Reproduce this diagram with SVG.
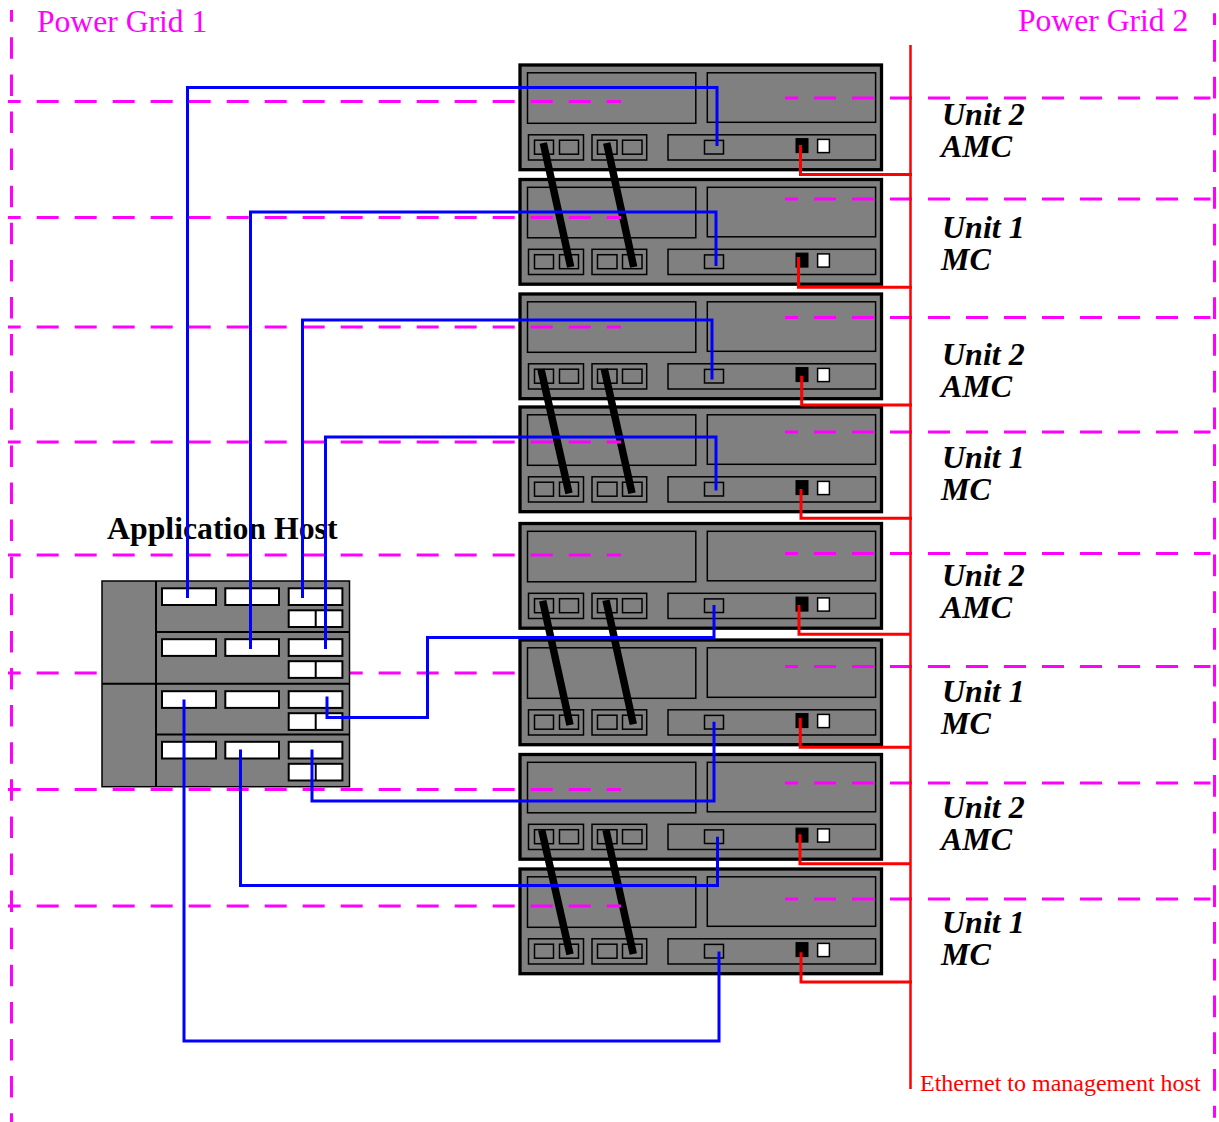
<svg xmlns="http://www.w3.org/2000/svg" width="1219" height="1122" viewBox="0 0 1219 1122">
<style>
.g{fill:#808080;stroke:#000;stroke-width:1.5}
.o{fill:#808080;stroke:#000;stroke-width:3.3}
.w{fill:#fff;stroke:#000;stroke-width:2}
.b{fill:#000;stroke:#000;stroke-width:1}
.m{fill:none;stroke:#f0f;stroke-width:3;stroke-dasharray:22 16}
.bl{fill:none;stroke:#00f;stroke-width:3}
.r{fill:none;stroke:#f00;stroke-width:3}
.k{stroke:#000;stroke-width:7.5}
text{font-family:"Liberation Serif","Times New Roman",serif}
.p{font-size:31.6px;fill:#f0f}
.u{font-size:32px;font-weight:bold;font-style:italic;fill:#000}
.a{font-size:31.8px;font-weight:bold;fill:#000}
.e{font-size:24px;fill:#f00}
</style>
<defs>
<g id="rack">
<rect class="o" x="520" y="65" width="361.5" height="104.7"/>
<rect class="g" x="527.5" y="72.8" width="168.3" height="50.5"/>
<rect class="g" x="707.3" y="72.8" width="168.3" height="49.5"/>
<rect class="g" x="528.5" y="134.8" width="55" height="25.2"/>
<rect class="g" x="534.5" y="140.2" width="19" height="14"/>
<rect class="g" x="559.5" y="140.2" width="19" height="14"/>
<rect class="g" x="592" y="134.8" width="54.7" height="25.2"/>
<rect class="g" x="597.5" y="140.2" width="19.5" height="14"/>
<rect class="g" x="622.5" y="140.2" width="19.5" height="14"/>
<rect class="g" x="668" y="134.8" width="207.6" height="25.2"/>
<rect class="g" x="704.5" y="140.4" width="19" height="13.6"/>
<rect class="b" x="796" y="138.6" width="12" height="14"/>
<rect class="w" x="817.6" y="139.4" width="11.8" height="13.2" style="stroke-width:1.5"/>
</g>
<g id="slots">
<rect class="w" x="162" y="0" width="54" height="16.7"/>
<rect class="w" x="225.3" y="0" width="53.7" height="16.7"/>
<rect class="w" x="288.7" y="0" width="53.7" height="16.7"/>
<rect class="w" x="288.7" y="22" width="53.7" height="16.7"/>
<path d="M315.7 22V38.7" fill="none" stroke="#000" stroke-width="2"/>
</g>
</defs>
<rect width="1219" height="1122" fill="#fff"/>
<g id="unit-1"><use href="#rack"/></g>
<g id="unit-2"><use href="#rack" y="114.5"/></g>
<g id="unit-3"><use href="#rack" y="229"/></g>
<g id="unit-4"><use href="#rack" y="342"/></g>
<g id="unit-5"><use href="#rack" y="458.5"/></g>
<g id="unit-6"><use href="#rack" y="575"/></g>
<g id="unit-7"><use href="#rack" y="689.5"/></g>
<g id="unit-8"><use href="#rack" y="804"/></g>
<g id="links">
<path class="k" d="M543.3 143 570.7 267M606.7 143 633.7 267"/>
<path class="k" d="M541 369.3 569 493.3M604.3 369 632 493.3"/>
<path class="k" d="M542.7 600.7 570 725M606 600.3 633.3 724.3"/>
<path class="k" d="M541.7 830 570 954.3M606 830 633.3 954"/>
</g>
<g id="grid-lines">
<path class="m" stroke-dashoffset="9.3" d="M8 101.5H621"/>
<path class="m" stroke-dashoffset="9.3" d="M8 217.5H621"/>
<path class="m" stroke-dashoffset="9.3" d="M8 327H621"/>
<path class="m" stroke-dashoffset="9.3" d="M8 442H621"/>
<path class="m" stroke-dashoffset="9.3" d="M8 555H621"/>
<path class="m" stroke-dashoffset="9.3" d="M8 673H519"/>
<path class="m" stroke-dashoffset="9.3" d="M8 789.5H621"/>
<path class="m" stroke-dashoffset="9.3" d="M8 906H621"/>
<path class="m" stroke-dashoffset="9" d="M785 98H1210.5"/>
<path class="m" stroke-dashoffset="9" d="M785 199H1210.5"/>
<path class="m" stroke-dashoffset="9" d="M785 317.5H1210.5"/>
<path class="m" stroke-dashoffset="9" d="M785 432H1210.5"/>
<path class="m" stroke-dashoffset="9" d="M785 553.5H1210.5"/>
<path class="m" stroke-dashoffset="9" d="M785 666.5H1210.5"/>
<path class="m" stroke-dashoffset="9" d="M785 783H1210.5"/>
<path class="m" stroke-dashoffset="9" d="M785 899H1210.5"/>
<path class="m" style="stroke-dasharray:21.5 15.6" stroke-dashoffset="9.8" d="M11.5 10V1122"/>
<path class="m" style="stroke-dasharray:21.7 15.05" stroke-dashoffset="10" d="M1214.5 13.3V1117.7"/>
</g>
<g id="application-host">
<rect class="g" x="102" y="581" width="247.5" height="205.7"/>
<path d="M156 581V786.7M102 683.7H349.5M156 632H349.5M156 734.5H349.5" fill="none" stroke="#000" stroke-width="2"/>
<use href="#slots" y="588.3"/>
<use href="#slots" y="639.2"/>
<use href="#slots" y="691.2"/>
<use href="#slots" y="741.8"/>
<text class="a" x="107" y="539">Application Host</text>
</g>
<g id="connectors">
<path class="bl" d="M187.5 598V87.5H717V146"/>
<path class="bl" d="M250.5 649V212H716V266"/>
<path class="bl" d="M302.5 598V320H712V379.5"/>
<path class="bl" d="M325.5 649V437H716V490.5"/>
<path class="bl" d="M327 696.5V717.5H427.5V637.5H714V605"/>
<path class="bl" d="M312 749.5V801H714V721.7"/>
<path class="bl" d="M240.5 749.5V885.5H717.5V836.7"/>
<path class="bl" d="M184 699.5V1041H719V951.5"/>
<path class="r" style="stroke-width:2.5" d="M910.5 45V1089"/>
<path class="r" d="M800.5 145V174.5H912"/>
<path class="r" d="M798.5 257V287.3H912"/>
<path class="r" d="M801.7 375.7V405H912"/>
<path class="r" d="M801 489V518.3H912"/>
<path class="r" d="M799 605V634.3H910"/>
<path class="r" d="M800.3 718V747.3H910"/>
<path class="r" d="M800 834.3V863.7H910"/>
<path class="r" d="M801 952.3V982H912"/>
</g>
<g id="labels">
<text class="p" x="37" y="32">Power Grid 1</text>
<text class="p" x="1018" y="31">Power Grid 2</text>
<text class="u" x="942" y="125">Unit 2</text><text class="u" x="941" y="157">AMC</text>
<text class="u" x="942" y="238">Unit 1</text><text class="u" x="941" y="270">MC</text>
<text class="u" x="942" y="365">Unit 2</text><text class="u" x="941" y="397">AMC</text>
<text class="u" x="942" y="468">Unit 1</text><text class="u" x="941" y="500">MC</text>
<text class="u" x="942" y="586">Unit 2</text><text class="u" x="941" y="618">AMC</text>
<text class="u" x="942" y="702">Unit 1</text><text class="u" x="941" y="734">MC</text>
<text class="u" x="942" y="818">Unit 2</text><text class="u" x="941" y="850">AMC</text>
<text class="u" x="942" y="933">Unit 1</text><text class="u" x="941" y="965">MC</text>
<text class="e" x="920" y="1091">Ethernet to management host</text>
</g>
</svg>
